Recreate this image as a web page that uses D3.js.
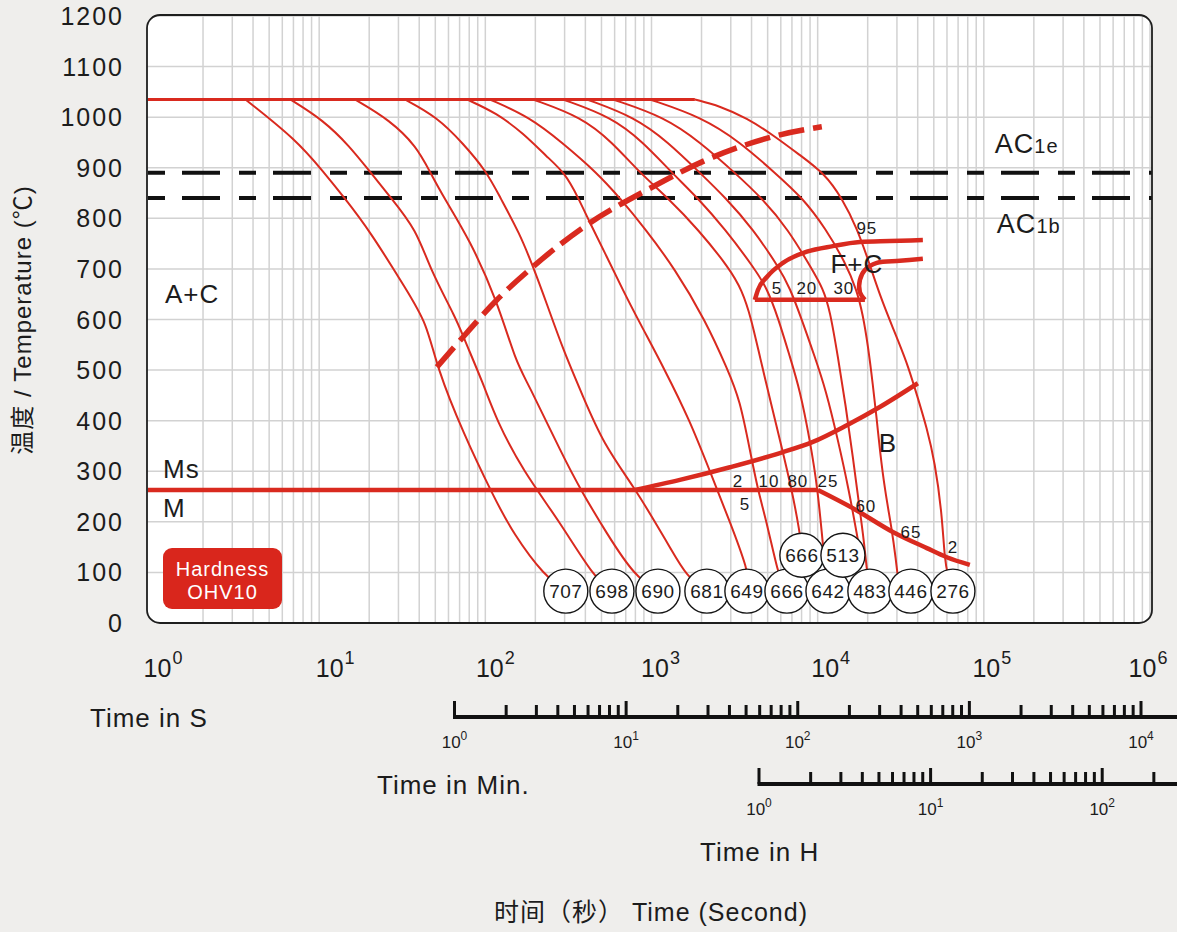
<!DOCTYPE html>
<html><head><meta charset="utf-8">
<script src="https://cdn.jsdelivr.net/npm/d3@7"></script>
<style>
html,body{margin:0;padding:0;background:#efeeec;}
svg{display:block;}
text{font-family:"Liberation Sans",Arial,Helvetica,"Noto Sans CJK SC",sans-serif;fill:#1c1c1c;}
</style></head><body>
<svg id="chart" width="1177" height="932"></svg>
<script>
// ---------------- DATA ----------------
const yTickValues = [0,100,200,300,400,500,600,700,800,900,1000,1100,1200];
const xDecadeExponents = [0,1,2,3,4,5,6];
const secondsAxisExponents = [0,1,2,3,4];
const minutesAxisExponents = [0,1,2];

const austenitizingTemp = 1035;
const austenitizingTimes = [0.93, 1824];
const ac1eTemp = 890;
const ac1bTemp = 840;

const msHorizontal = [[0.93,263],[10030,263]];
const msDescending = [[10030,263],[16290,227],[28340,180],[45380,148],[59850,130],[82370,115]];
const bainiteStart = [[794,263],[1482,283],[2965,308],[5925,336],[9360,358],[14990,391],[23660,427],[40070,474]];
const ferriteUpper = [[4188,639],[4365,658],[4946,684],[6177,712],[8610,734],[12350,745],[17950,753],[27210,755],[42960,757]];
const ferriteLower = [[4188,639],[19240,639]];
const ferriteHook = [[19240,639],[17950,654],[17950,678],[19240,698],[22710,712],[31240,716],[42960,720]];
const carbideDashed = [[51.1,506],[73.3,565],[117.5,639],[193,704],[426,791],[938,856],[2340,921],[5930,965],[10590,981]];

const coolingCurves = [
 [[3.6,1035],[7.3,955],[10.6,892],[14.0,843],[20.2,775],[33.6,658],[44.4,593],[50.9,507],[73.6,375],[112,250],[147,177],[228,92],[305,63]],
 [[6.7,1035],[10.6,994],[15.3,942],[20.2,892],[26.7,843],[38.6,777],[46.4,700],[67.2,600],[73.6,566],[97,474],[117,400],[169,300],[281,200],[446,92],[578,63]],
 [[16.4,1035],[26.7,994],[38.6,942],[46.4,892],[55.8,843],[80.8,757],[117,639],[154,513],[177,480],[294,329],[371,266],[537,177],[794,92],[1093,63]],
 [[32.8,1035],[50.9,1001],[73.6,948],[102,892],[122,843],[161,770],[194,704],[234,632],[294,540],[388,447],[512,355],[794,266],[1048,200],[1291,150],[1633,91],[2154,63]],
 [[77.5,1035],[117,1008],[169,968],[234,922],[301,890],[361,842],[426,791],[539,724],[673,658],[851,593],[1205,500],[1702,400],[2246,300],[2965,200],[3802,105],[3908,65]],
 [[106.6,1035],[185,1000],[289,950],[470,890],[646,840],[913,780],[1384,700],[2096,600],[2884,500],[3404,441],[3908,342],[4365,263],[4946,198],[5764,99],[6350,63]],
 [[193.4,1035],[381,1000],[578,951],[851,890],[1256,840],[1901,779],[2965,700],[3499,658],[3963,605],[4490,526],[5305,427],[5925,362],[6998,263],[7816,178],[8035,144]],
 [[293,1035],[578,1000],[888,951],[1327,890],[1901,840],[2766,779],[4188,700],[4946,662],[5764,605],[6808,526],[7816,461],[8975,362],[10030,263],[10740,154],[11530,63]],
 [[409,1035],[794,1000],[1256,951],[1955,890],[2805,840],[4074,779],[5925,700],[6808,662],[7925,605],[9616,526],[11200,461],[13240,362],[15420,263],[17460,164]],
 [[586,1035],[1205,1000],[1955,951],[3177,890],[4615,840],[6620,779],[9226,700],[10740,662],[11850,619],[13240,526],[14790,427],[16290,328],[17700,237],[18970,164],[20050,85],[20610,63]],
 [[978,1035],[2011,1000],[3404,951],[5530,890],[8147,840],[11200,779],[14590,714],[17220,658],[18710,609],[20050,550],[21490,471],[22710,401],[23660,342],[25360,263],[27990,184],[29570,125],[30400,89],[31500,63]],
 [[1824,1035],[2581,1022],[3750,998],[5379,965],[7816,925],[11050,888],[13990,840],[17220,781],[20330,714],[23660,648],[28370,583],[34430,516],[39540,451],[45390,386],[50720,318],[55860,219],[58250,121],[60810,95],[64000,63]]
];

const hardnessValues = [707,698,690,681,649,666,642,483,446,276,666,513];
const hardnessTimes  = [305,578,1093,2154,3750,6530,11530,20610,36390,65160,8035,14190];
const hardnessTemps  = [63,63,63,63,63,63,63,63,63,63,134,134];

const percentLabels = ["95","5","20","30","2","10","80","25","5","60","65","2"];
const percentTimes  = [19770,5686,8610,14380,3311,5090,7600,11530,3648,19500,36390,65160];
const percentTemps  = [769,650,650,650,269,269,269,269,223,219,168,138];

const regionLabels = ["A+C","Ms","M"];
const regionTimes  = [1.18,1.15,1.15];
const regionTemps  = [633,287,210];
const phaseLabels = ["B","F+C"];
const phaseTimes  = [26470,17220];
const phaseTemps  = [338,692];

// ---------------- DRAW ----------------
const RED = "#d92a1f";
const svg = d3.select("#chart");
const x = d3.scaleLog().domain([1,1e6]).range([153,1150]);
const y = d3.scaleLinear().domain([0,1200]).range([623,16]);
const L = 147, R = 1152, T0 = 15, B0 = 623;

const defs = svg.append("defs");
defs.append("clipPath").attr("id","plotClip").append("rect")
  .attr("x",L).attr("y",T0).attr("width",R-L).attr("height",B0-T0).attr("rx",13);

svg.append("rect").attr("x",L).attr("y",T0).attr("width",R-L).attr("height",B0-T0).attr("rx",13).attr("fill","#fff");

const plot = svg.append("g").attr("clip-path","url(#plotClip)");

// grid
const gridVals = [];
for (let k=0;k<6;k++) for (let m=1;m<=9;m++) { const v=m*Math.pow(10,k); if (v>1) gridVals.push(v); }
gridVals.push(1e6);
plot.selectAll("line.gv").data(gridVals).join("line")
  .attr("x1",d=>x(d)).attr("x2",d=>x(d)).attr("y1",y(0)).attr("y2",y(1200))
  .attr("stroke","#d2d2d2").attr("stroke-width",1.5);
plot.selectAll("line.gh").data(yTickValues).join("line")
  .attr("x1",L).attr("x2",R).attr("y1",d=>y(d)).attr("y2",d=>y(d))
  .attr("stroke","#d2d2d2").attr("stroke-width",1.5);

// AC lines
[ac1eTemp, ac1bTemp].forEach(t=>{
  plot.append("line").attr("x1",148).attr("x2",R).attr("y1",y(t)).attr("y2",y(t))
    .attr("stroke","#111").attr("stroke-width",4).attr("stroke-dasharray","17,17,38,19");
});

const lineGen = d3.line().x(d=>x(d[0])).y(d=>y(d[1])).curve(d3.curveMonotoneX);
const smoothGen = d3.line().x(d=>x(d[0])).y(d=>y(d[1])).curve(d3.curveBasis);
const linLine = d3.line().x(d=>x(d[0])).y(d=>y(d[1]));

// cooling curves
plot.selectAll("path.cc").data(coolingCurves).join("path")
  .attr("d",smoothGen).attr("fill","none").attr("stroke",RED).attr("stroke-width",2);

// austenitizing line
plot.append("line").attr("x1",x(austenitizingTimes[0])).attr("x2",x(austenitizingTimes[1]))
  .attr("y1",y(austenitizingTemp)).attr("y2",y(austenitizingTemp))
  .attr("stroke",RED).attr("stroke-width",3);

// transformation lines
plot.append("path").attr("d",linLine(msHorizontal)).attr("fill","none").attr("stroke",RED).attr("stroke-width",4.5);
plot.append("path").attr("d",lineGen(msDescending)).attr("fill","none").attr("stroke",RED).attr("stroke-width",4.5);
plot.append("path").attr("d",lineGen(bainiteStart)).attr("fill","none").attr("stroke",RED).attr("stroke-width",4.5);
plot.append("path").attr("d",lineGen(ferriteUpper)).attr("fill","none").attr("stroke",RED).attr("stroke-width",4.5);
plot.append("path").attr("d",linLine(ferriteLower)).attr("fill","none").attr("stroke",RED).attr("stroke-width",4.5);
plot.append("path").attr("d",d3.line().x(d=>x(d[0])).y(d=>y(d[1])).curve(d3.curveCatmullRom)(ferriteHook))
  .attr("fill","none").attr("stroke",RED).attr("stroke-width",4.5);
plot.append("path").attr("d",lineGen(carbideDashed)).attr("fill","none").attr("stroke",RED)
  .attr("stroke-width",5.5).attr("stroke-dasharray","26,9");

// frame
svg.append("rect").attr("x",L).attr("y",T0).attr("width",R-L).attr("height",B0-T0).attr("rx",13)
  .attr("fill","none").attr("stroke","#1e1e1e").attr("stroke-width",1.8);

// region labels
regionLabels.forEach((s,i)=>{
  svg.append("text").attr("x",x(regionTimes[i])).attr("y",y(regionTemps[i]))
    .style("font-size","26px").style("letter-spacing","1px").text(s);
});
phaseLabels.forEach((s,i)=>{
  svg.append("text").attr("x",x(phaseTimes[i])).attr("y",y(phaseTemps[i])).attr("text-anchor","middle")
    .style("font-size","26px").style("letter-spacing","1px").text(s);
});
// AC labels
const acLabels = [["1e",116500,929],["1b",119800,771]];
acLabels.forEach(a=>{
  const t = svg.append("text").attr("x",x(a[1])).attr("y",y(a[2])).style("font-size","27px").style("letter-spacing","1px");
  t.append("tspan").text("AC");
  t.append("tspan").style("font-size","20px").text(a[0]);
});
// percent labels
percentLabels.forEach((s,i)=>{
  svg.append("text").attr("x",x(percentTimes[i])).attr("y",y(percentTemps[i])).attr("text-anchor","middle")
    .style("font-size","17px").style("letter-spacing","1px").text(s);
});

// hardness circles
const order = d3.range(hardnessValues.length);
const hg = svg.selectAll("g.hc").data(order).join("g")
  .attr("transform",i=>`translate(${x(hardnessTimes[i])},${y(hardnessTemps[i])})`);
hg.append("circle").attr("r",22).attr("fill","#fff").attr("stroke","#151515").attr("stroke-width",1.4);
hg.append("text").attr("text-anchor","middle").attr("dy","0.36em").style("font-size","19px").style("letter-spacing","0.5px")
  .text(i=>hardnessValues[i]);

// hardness box
svg.append("rect").attr("x",163).attr("y",548).attr("width",119).attr("height",61).attr("rx",9).attr("fill","#d9261c");
svg.append("text").attr("x",222.5).attr("y",576).attr("text-anchor","middle").style("fill","#fff")
  .style("font-size","20px").style("letter-spacing","1px").text("Hardness");
svg.append("text").attr("x",222.5).attr("y",599).attr("text-anchor","middle").style("fill","#fff")
  .style("font-size","20px").style("letter-spacing","1px").text("OHV10");

// y tick labels
svg.selectAll("text.yt").data(yTickValues).join("text")
  .attr("x",124).attr("y",d=>y(d)+9).attr("text-anchor","end")
  .style("font-size","25px").style("letter-spacing","2px").text(d=>d);

// main x labels
const xLabelShift = [10,16,10,9,13,8,-2];
xDecadeExponents.forEach((k,i)=>{
  const t = svg.append("text").attr("x",x(Math.pow(10,k))+xLabelShift[i]).attr("y",677)
    .attr("text-anchor","middle").style("font-size","25px");
  t.append("tspan").text("10");
  t.append("tspan").attr("dy",-13).attr("dx",1).style("font-size","18px").text(k);
});

// axis titles
svg.append("text").attr("transform","translate(31,320) rotate(-90)").attr("text-anchor","middle")
  .style("font-size","24px").style("letter-spacing","1px").text("温度 / Temperature (℃)");
svg.append("text").attr("x",90).attr("y",727).style("font-size","26px").style("letter-spacing","1px").text("Time in S");
svg.append("text").attr("x",377).attr("y",794).style("font-size","26px").style("letter-spacing","1px").text("Time in Min.");
svg.append("text").attr("x",700).attr("y",861).style("font-size","26px").style("letter-spacing","1px").text("Time in H");
svg.append("text").attr("x",651).attr("y",921).attr("text-anchor","middle").style("font-size","25px").style("letter-spacing","1px")
  .text("时间（秒） Time (Second)");

// secondary axes
function drawSecondary(scale, exps, yLine, labelY) {
  const g = svg.append("g");
  g.append("line").attr("x1",scale.range()[0]-1.5).attr("x2",1177).attr("y1",yLine).attr("y2",yLine)
    .attr("stroke","#111").attr("stroke-width",4);
  const ticks = [];
  for (let k=exps[0]; k<=exps[exps.length-1]+1; k++) for (let m=1;m<=9;m++) {
    const v = m*Math.pow(10,k);
    if (scale(v) <= 1176) ticks.push({v, major: m===1});
  }
  g.selectAll("line.t").data(ticks).join("line")
    .attr("x1",d=>scale(d.v)).attr("x2",d=>scale(d.v))
    .attr("y1",d=>d.major? yLine-16 : yLine-12).attr("y2",yLine)
    .attr("stroke","#111").attr("stroke-width",3);
  exps.forEach(k=>{
    const t = g.append("text").attr("x",scale(Math.pow(10,k))).attr("y",labelY).attr("text-anchor","middle").style("font-size","17px");
    t.append("tspan").text("10");
    t.append("tspan").attr("dy",-8).style("font-size","12px").text(k);
  });
}
const sScale = d3.scaleLog().domain([1,1e4]).range([454.5,1141]);
const mScale = d3.scaleLog().domain([1,100]).range([759,1102.2]);
drawSecondary(sScale, secondsAxisExponents, 717, 748);
drawSecondary(mScale, minutesAxisExponents, 784, 815);
</script></body></html>
